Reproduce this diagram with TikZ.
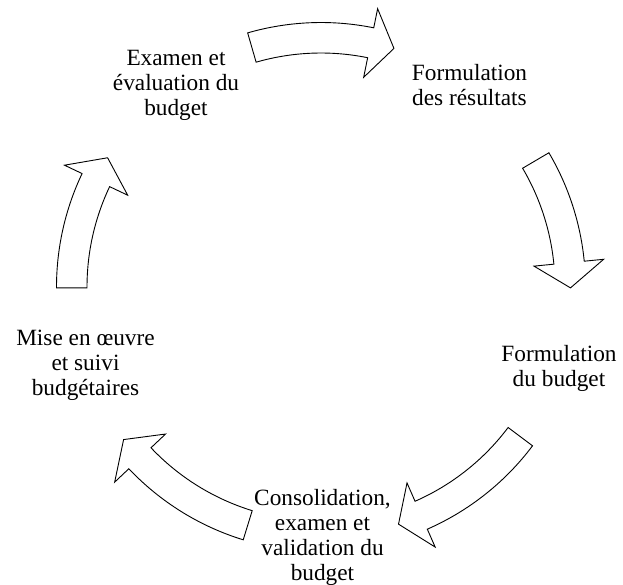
\documentclass[tikz,border=0pt]{standalone}
\usepackage{fontspec}
\setmainfont{Liberation Serif}
\begin{document}
\begin{tikzpicture}[x=1pt,y=1pt,
  lbl/.style={align=center,inner sep=0pt,anchor=base,
    font=\fontsize{23.3}{25}\selectfont},
  cyc/.style={draw=black,fill=white,line width=0.9pt,line join=miter}]
\useasboundingbox (0,0) rectangle (623,-584);
\coordinate (O) at (321,-287);
% labels (anchor = baseline of the last line)
\node[lbl] (exam) at (176,-115) {Examen et\\évaluation du\\budget};
\node[lbl] (res) at (469.5,-105) {Formulation\\des résultats};
\node[lbl] (form) at (559,-386.5) {Formulation\\du budget};
\node[lbl] (cons) at (322.5,-580) {Consolidation,\\examen et\\validation du\\budget};
\node[lbl] (mise) at (85.5,-395) {Mise en œuvre\\et suivi\\budgétaires};
% curved block arrows (tail angle / head base angle / tip angle)
\begin{scope}[shift={(O)}]
\foreach \T/\B/\P in {106.1/78.5/73.0, 30.5/5.6/-0.2, -36.9/-66.3/-71.9,
                      -107.1/-136.6/-142.3, 180.2/154.6/148.8}{
  \draw[cyc] (\T:264.5) arc[start angle=\T, end angle=\B, radius=264.5]
    -- (\B:284) -- (\P:249.5) -- (\B:214) -- (\B:234)
    arc[start angle=\B, end angle=\T, radius=234] -- cycle;
}
\end{scope}
\end{tikzpicture}
\end{document}
